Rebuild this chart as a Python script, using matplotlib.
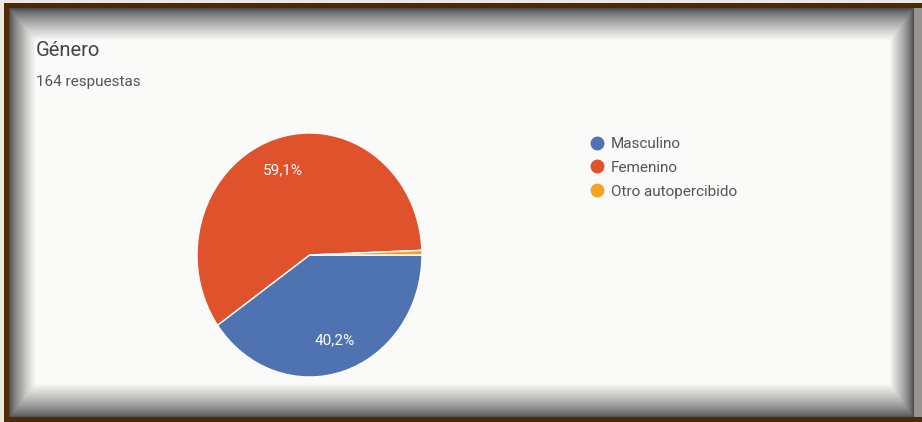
import numpy as np
import matplotlib
matplotlib.use("Agg")
import matplotlib.pyplot as plt
from matplotlib.lines import Line2D

# ---- data ----
categories = ["Masculino", "Femenino", "Otro autopercibido"]
counts = [66, 97, 1]
colors = ["#4f73b1", "#e0522b", "#f5a325"]
title = "Género"
subtitle = "164 respuestas"

W, H = 922, 422
fig = plt.figure(figsize=(W / 100, H / 100), dpi=100)

# ---- framed, bevelled background ----
yy, xx = np.mgrid[0:H, 0:W].astype(float)
outer = np.array([236, 232, 226]) / 255
brown = np.array([78, 42, 8]) / 255
white = np.array([250, 250, 248]) / 255
dark = np.array([75, 75, 75]) / 255

img = np.ones((H, W, 3)) * outer
fx0, fy0, fy1 = 4, 3, 422
frame = (xx >= fx0) & (yy >= fy0) & (yy < fy1)
img[frame] = brown
ix0, iy0, iy1 = 9, 8, 417
inner = (xx >= ix0) & (yy >= iy0) & (yy < iy1)
t_top = np.clip((yy - iy0) / 32.0, 0, 1)
t_left = np.clip((xx - ix0) / 26.0, 0, 1)
t_bot = np.clip((iy1 - yy) / 34.0, 0, 1)
t_right = np.clip((912 - xx) / 24.0, 0, 1)
t = np.minimum.reduce([t_top ** 0.75, t_left ** 0.75, t_bot ** 0.75, t_right ** 0.75])
shade = dark[None, None, :] + (white - dark)[None, None, :] * t[..., None]
strip = xx >= 913
shade[strip] = np.array([150, 148, 146]) / 255
img[inner] = shade[inner]

bg = fig.add_axes([0, 0, 1, 1])
bg.imshow(img, extent=(0, W, H, 0), aspect="auto", interpolation="bilinear")
bg.set_xlim(0, W)
bg.set_ylim(H, 0)
bg.axis("off")

fam = ["Roboto", "DejaVu Sans"]
bg.text(36, 51, title, fontsize=14.5, color="#444444", family=fam, va="center", ha="left")
bg.text(36, 82, subtitle, fontsize=11, color="#555555", family=fam, va="center", ha="left")

# ---- pie ----
cx0, cy_top, pw, ph = 197, 133, 225, 244
ax = fig.add_axes([cx0 / W, (H - cy_top - ph) / H, pw / W, ph / H])
ax.patch.set_alpha(0)


def fmt(p):
    return ("%.1f%%" % p).replace(".", ",") if p >= 1 else ""


wedges, texts, autotexts = ax.pie(
    counts,
    colors=colors,
    startangle=0,
    counterclock=False,
    autopct=fmt,
    pctdistance=0.73,
    wedgeprops=dict(edgecolor="white", linewidth=1.0),
    textprops=dict(color="white", fontsize=11, family=fam),
    radius=1.0,
)
ax.set_aspect("auto")
ax.set_xlim(-1, 1)
ax.set_ylim(-1, 1)
ax.axis("off")

# ---- legend ----
handles = [Line2D([], [], marker="o", linestyle="none", markersize=9,
                  markerfacecolor=c, markeredgecolor=c) for c in colors]
leg = fig.legend(handles, categories, loc="upper left",
                 bbox_to_anchor=(588 / W, 1 - 137 / H), frameon=False,
                 prop=dict(family=fam, size=11), labelcolor="#555555",
                 handletextpad=0.3, labelspacing=0.64, handlelength=1.2,
                 borderpad=0, borderaxespad=0)

fig.savefig("out.png", dpi=100)
